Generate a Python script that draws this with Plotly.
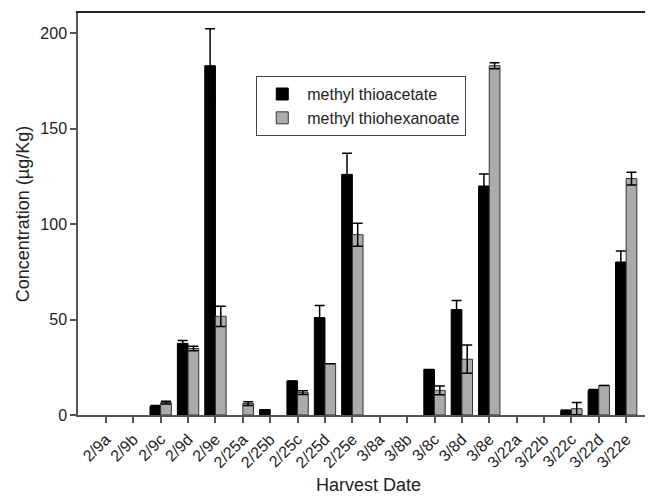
import plotly.graph_objects as go

categories = ["2/9a", "2/9b", "2/9c", "2/9d", "2/9e",
              "2/25a", "2/25b", "2/25c", "2/25d", "2/25e",
              "3/8a", "3/8b", "3/8c", "3/8d", "3/8e",
              "3/22a", "3/22b", "3/22c", "3/22d", "3/22e"]

thioacetate = [0, 0, 4.5, 37.5, 182.9,
               0, 2.8, 17.8, 51.0, 126.0,
               0, 0, 23.8, 55.2, 119.9,
               0, 0, 2.5, 12.9, 80.1]
thioacetate_err = [0, 0, 0.5, 1.5, 19.4,
                   0, 0, 0, 6.4, 11.0,
                   0, 0, 0, 4.8, 6.3,
                   0, 0, 0, 0.5, 5.8]

thiohexanoate = [0, 0, 6.5, 34.8, 51.7,
                 6.0, 0, 11.7, 26.9, 94.4,
                 0, 0, 12.9, 29.2, 182.9,
                 0, 0, 3.3, 15.5, 123.8]
thiohexanoate_err = [0, 0, 0.7, 1.2, 5.3,
                     1.0, 0, 1.0, 0, 6.0,
                     0, 0, 2.3, 7.4, 1.6,
                     0, 0, 3.2, 0, 3.3]


def hide_zero(vals):
    # zero readings are not drawn (no bar, no error cap), as in the original
    return [v if v > 0 else None for v in vals]


FONT = "Liberation Sans, Arial, sans-serif"
TXT = "#222222"

fig = go.Figure()
fig.add_trace(go.Bar(
    x=categories, y=hide_zero(thioacetate), name="methyl thioacetate",
    marker=dict(color="#000000", line=dict(color="#000000", width=1)),
    error_y=dict(type="data", array=thioacetate_err, visible=True,
                 color="#000000", thickness=1.5, width=5),
))
fig.add_trace(go.Bar(
    x=categories, y=hide_zero(thiohexanoate), name="methyl thiohexanoate",
    marker=dict(color="#ababab", line=dict(color="#333333", width=1)),
    error_y=dict(type="data", array=thiohexanoate_err, visible=True,
                 color="#000000", thickness=1.5, width=5),
))

# page body has an 8px default margin, so the figure is sized to fit the window
fig.update_layout(
    width=645, height=488,
    margin=dict(l=70, r=0, t=5, b=81),
    paper_bgcolor="white", plot_bgcolor="white",
    barmode="group", bargap=0.22, bargroupgap=0,
    font=dict(family=FONT, size=16, color=TXT),
    showlegend=True,
    legend=dict(x=0.31, y=0.843, xanchor="left", yanchor="top",
                bgcolor="white", bordercolor="#444444", borderwidth=1,
                font=dict(family=FONT, size=16, color=TXT),
                traceorder="normal", itemwidth=40, tracegroupgap=0),
    xaxis=dict(
        type="category", range=[-1.02, 19.98],
        categoryorder="array", categoryarray=categories,
        showline=True, linecolor="#555555", linewidth=1.5,
        ticks="outside", ticklen=6, tickcolor="#555555", tickwidth=1.5,
        tickangle=-45, tickfont=dict(family=FONT, size=16, color=TXT),
        ticklabelstandoff=1,
        showgrid=False, zeroline=False, mirror=False,
    ),
    xaxis2=dict(overlaying="x", side="top", showline=True, linecolor="#222222",
                linewidth=2, showticklabels=False, ticks="", showgrid=False,
                zeroline=False, range=[0, 1]),
    yaxis=dict(
        range=[0, 210.5],
        tickvals=[0, 50, 100, 150, 200],
        showline=True, linecolor="#555555", linewidth=1.5,
        ticks="outside", ticklen=6, tickcolor="#555555", tickwidth=1.5,
        tickfont=dict(family=FONT, size=16, color=TXT),
        showgrid=False, zeroline=False,
        title=dict(text="Concentration (µg/Kg)", font=dict(family=FONT, size=18, color=TXT),
                   standoff=6),
    ),
    annotations=[dict(text="Harvest Date", xref="paper", yref="paper",
                      x=0.505, y=-0.175, xanchor="center", yanchor="middle",
                      showarrow=False, font=dict(family=FONT, size=18, color=TXT))],
)
fig.add_trace(go.Scatter(x=[0, 1], y=[0, 0], xaxis="x2", mode="lines",
                         line=dict(width=0), showlegend=False, hoverinfo="skip"))

fig.write_html("out.html")
